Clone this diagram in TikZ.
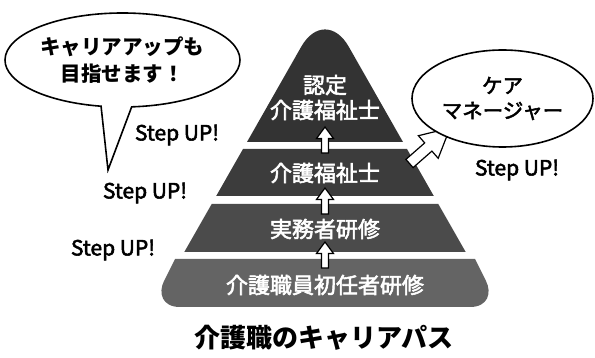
\documentclass[tikz,border=0pt]{standalone}
\usepackage{fontspec}
\setmainfont{Noto Sans CJK JP}
\newfontfamily\jpmed[FakeBold=2.5]{Noto Sans CJK JP}
\usetikzlibrary{shapes.geometric,shapes.callouts}
\definecolor{tierA}{HTML}{333333}
\definecolor{tierB}{HTML}{3C3C3C}
\definecolor{tierC}{HTML}{4B4B4B}
\definecolor{tierD}{HTML}{646464}
\tikzset{
  tiertext/.style={text=white,font=\jpmed\fontsize{22}{25}\selectfont,align=center,inner sep=0pt},
  stepup/.style={font=\jpmed\fontsize{21}{24}\selectfont,inner sep=0pt},
  blockarrow/.style={draw=black,fill=white,line width=1.2pt,line join=miter},
  bubble/.style={draw=black,fill=white,line width=1.6pt,inner sep=0pt,align=center,
    font=\bfseries\fontsize{20.5}{27}\selectfont}
}
\newcommand{\uparrowat}[1]{%
  \path[blockarrow] (325,#1) -- (333.5,#1+11.5) -- (328.5,#1+11.5) -- (328.5,#1+26)
    -- (321.5,#1+26) -- (321.5,#1+11.5) -- (316.5,#1+11.5) -- cycle;}
\begin{document}
\begin{tikzpicture}[x=1pt,y=-1pt]
\useasboundingbox (0,0) rectangle (595,358);
% pyramid tiers
\fill[tierA] (247,142) [rounded corners=48pt] -- (325,5) [sharp corners] -- (403,142) -- cycle;
\fill[tierB] (243,149) -- (407,149) -- (433.8,196) -- (216.2,196) -- cycle;
\fill[tierC] (211.7,204) -- (438.3,204) -- (465.7,252) -- (184.3,252) -- cycle;
\fill[tierD] (175,259) -- (164,281) .. controls (158,293) and (162,307) .. (180,307)
  -- (470,307) .. controls (488,307) and (492,293) .. (486,281) -- (475,259) -- cycle;
% tier texts
\node[tiertext] (t1) at (325,97.5) {認定\\介護福祉士};
\node[tiertext] (t2) at (325,173) {介護福祉士};
\node[tiertext] (t3) at (325,229) {実務者研修};
\node[tiertext] (t4) at (325,285) {介護職員初任者研修};
% up arrows
\uparrowat{127}
\uparrowat{188}
\uparrowat{242}
% diagonal arrow
\path[blockarrow] (413.1,167.6) -- (431.9,151.1) -- (438.2,158.3) -- (450,128)
  -- (418.4,135.7) -- (424.7,142.9) -- (405.9,159.4) -- cycle;
% speech bubble
\node[bubble,ellipse callout,minimum width=235pt,minimum height=94pt,
  callout absolute pointer={(108,170)}] (bub) at (122.5,60) {キャリアアップも\\目指せます！};
% care manager ellipse
\node[bubble,ellipse,minimum width=181pt,minimum height=97pt,font=\jpmed\fontsize{20.5}{25}\selectfont] (cm) at (502.5,98.5) {ケア\\マネージャー};
% step up labels
\node[stepup] (s1) at (177,135) {Step UP!};
\node[stepup] (s2) at (145,193) {Step UP!};
\node[stepup] (s3) at (113,250) {Step UP!};
\node[stepup] (s4) at (517,170) {Step UP!};
% title
\node[font=\bfseries\fontsize{26}{30}\selectfont,inner sep=0pt] (title) at (324,338) {介護職のキャリアパス};
\end{tikzpicture}
\end{document}
